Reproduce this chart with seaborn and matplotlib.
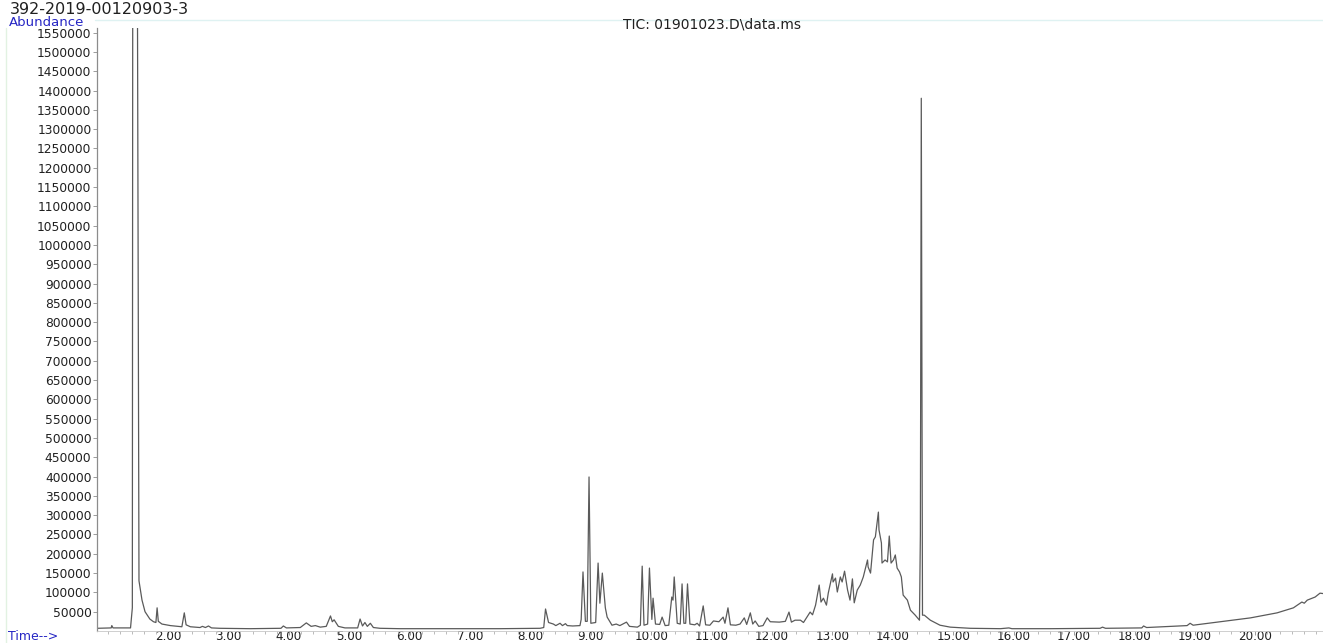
import matplotlib
matplotlib.use("Agg")
import matplotlib.pyplot as plt
import seaborn as sns
import numpy as np
from matplotlib.lines import Line2D
from matplotlib.ticker import FixedLocator

# ---- data (time in min, abundance) ----
time_min = [
    0.83, 1.06, 1.07, 1.09, 1.38, 1.41, 1.42, 1.48, 1.52, 1.57, 1.62, 1.70, 1.76, 1.80,
    1.82, 1.84, 1.90, 2.04, 2.23, 2.27, 2.30, 2.37, 2.53, 2.57, 2.62, 2.67, 2.72, 2.86,
    3.36, 3.87, 3.91, 3.96, 4.19, 4.29, 4.37, 4.44, 4.52, 4.62, 4.69, 4.72, 4.75, 4.82,
    4.93, 5.14, 5.18, 5.22, 5.26, 5.30, 5.35, 5.40, 5.51, 5.84, 6.67, 7.50, 8.16, 8.22,
    8.25, 8.30, 8.38, 8.42, 8.49, 8.53, 8.58, 8.61, 8.70, 8.82, 8.84, 8.87, 8.91, 8.94,
    8.97, 9.00, 9.08, 9.12, 9.15, 9.19, 9.24, 9.27, 9.35, 9.42, 9.48, 9.59, 9.64, 9.77,
    9.82, 9.85, 9.88, 9.94, 9.97, 10.01, 10.03, 10.07, 10.14, 10.18, 10.23, 10.29,
    10.34, 10.36, 10.38, 10.43, 10.48, 10.51, 10.54, 10.57, 10.60, 10.64, 10.72, 10.76,
    10.80, 10.86, 10.90, 10.97, 11.03, 11.12, 11.19, 11.22, 11.27, 11.31, 11.40, 11.47,
    11.54, 11.58, 11.64, 11.68, 11.72, 11.78, 11.85, 11.92, 11.97, 12.12, 12.22, 12.28,
    12.32, 12.38, 12.47, 12.52, 12.63, 12.67, 12.72, 12.78, 12.81, 12.85, 12.90, 12.93,
    13.00, 13.01, 13.05, 13.08, 13.13, 13.16, 13.20, 13.25, 13.29, 13.33, 13.36, 13.41,
    13.46, 13.51, 13.58, 13.59, 13.63, 13.68, 13.71, 13.76, 13.77, 13.81, 13.82, 13.87,
    13.91, 13.94, 13.97, 14.01, 14.04, 14.07, 14.11, 14.14, 14.17, 14.24, 14.29, 14.37,
    14.44, 14.455, 14.47, 14.49, 14.52, 14.62, 14.78, 14.95, 15.28, 15.78, 15.92, 15.97,
    16.61, 17.43, 17.47, 17.52, 18.12, 18.15, 18.20, 18.87, 18.92, 18.97, 19.37, 19.92,
    20.36, 20.63, 20.77, 20.81, 20.86, 20.99, 21.07, 21.12,
]
abundance = [
    7000, 8000, 14000, 8000, 8000, 60000, 2500000, 2500000, 130000, 80000, 50000, 31000, 24000, 22000,
    60000, 25000, 18000, 14000, 11000, 47000, 16000, 11000, 9000, 12000, 9000, 13000, 8000, 7000,
    6000, 7000, 13000, 8000, 9000, 21000, 12000, 14000, 10000, 12000, 39000, 24000, 29000, 12000,
    8000, 8000, 31000, 13000, 22000, 12000, 20000, 9000, 7000, 6000, 6000, 6000, 7000, 9000,
    57000, 22000, 18000, 14000, 20000, 14000, 19000, 14000, 13000, 14000, 30000, 153000, 25000, 25000,
    399000, 20000, 22000, 176000, 72000, 150000, 60000, 36000, 15000, 18000, 14000, 23000, 12000, 10000,
    15000, 168000, 15000, 18000, 163000, 30000, 85000, 18000, 17000, 36000, 14000, 15000,
    88000, 80000, 140000, 20000, 18000, 122000, 20000, 20000, 122000, 18000, 16000, 20000,
    13000, 65000, 16000, 15000, 26000, 24000, 36000, 20000, 60000, 16000, 15000, 18000,
    34000, 17000, 47000, 18000, 26000, 12000, 14000, 34000, 24000, 23000, 25000, 49000,
    23000, 28000, 28000, 22000, 49000, 42000, 67000, 119000, 75000, 85000, 67000, 98000,
    148000, 127000, 137000, 101000, 140000, 127000, 155000, 106000, 80000, 135000, 73000, 106000,
    119000, 140000, 184000, 166000, 150000, 236000, 244000, 308000, 262000, 228000, 176000, 184000,
    179000, 246000, 176000, 184000, 197000, 163000, 153000, 140000, 93000, 80000, 54000, 41000,
    28000, 250000, 1380000, 41000, 41000, 28000, 15000, 10000, 7000, 6000, 8000, 6000,
    6000, 7000, 10000, 7000, 8000, 13000, 9000, 14000, 20000, 15000, 23000, 34000,
    47000, 60000, 75000, 72000, 80000, 88000, 98000, 97000,
]

y_ticks = list(range(50000, 1550001, 50000))
y_tick_labels = [str(v) for v in y_ticks]
x_ticks = [2, 3, 4, 5, 6, 7, 8, 9, 10, 11, 12, 13, 14, 15, 16, 17, 18, 19, 20]
x_tick_labels = ["%.2f" % v for v in x_ticks]

title_text = "392-2019-00120903-3"
tic_text = "TIC: 01901023.D\\data.ms"

# ---- figure ----
sns.set_style("white")
plt.rcParams["font.family"] = ["DejaVu Sans"]

W, H = 1323, 643
fig = plt.figure(figsize=(W / 100, H / 100), dpi=100)
ax_l, ax_r, ax_t, ax_b = 97, 1323, 28, 631
ax = fig.add_axes([ax_l / W, 1 - ax_b / H, (ax_r - ax_l) / W, (ax_b - ax_t) / H])

sns.lineplot(x=time_min, y=abundance, ax=ax, color="#5a5a5a", linewidth=0.9,
             estimator=None, sort=False)

ax.set_xlim(0.825, 21.12)
ax.set_ylim(0, 1562000)
ax.set_xlabel("")
ax.set_ylabel("")

for s in ["top", "right"]:
    ax.spines[s].set_visible(False)
ax.spines["left"].set_color("#8c8c8c")
ax.spines["left"].set_linewidth(0.9)
ax.spines["bottom"].set_color("#c8c8c8")
ax.spines["bottom"].set_linewidth(0.6)

ax.yaxis.set_major_locator(FixedLocator(y_ticks))
ax.set_yticklabels(y_tick_labels)
ax.xaxis.set_major_locator(FixedLocator(x_ticks))
ax.set_xticklabels(x_tick_labels)
ax.xaxis.set_minor_locator(FixedLocator(np.arange(1.0, 21.2, 0.2)))

ax.tick_params(axis="y", which="major", direction="out", length=3, width=0.6,
               color="#8c8c8c", pad=1, labelsize=8.8, labelcolor="#202020", left=True)
ax.tick_params(axis="x", which="major", direction="out", length=3, width=0.6,
               color="#8c8c8c", pad=-3.5, labelsize=8.6, labelcolor="#202020", bottom=True)
ax.tick_params(axis="x", which="minor", direction="out", length=2.5, width=0.5,
               color="#a0a0a0", bottom=True)

blue = "#2626c4"
fig.text(10 / W, 1 - 9.5 / H, title_text, ha="left", va="center", fontsize=11.5, color="#202020")
fig.text(9 / W, 1 - 23 / H, "Abundance", ha="left", va="center", fontsize=9.5, color=blue)
fig.text(712 / W, 1 - 24 / H, tic_text, ha="center", va="center", fontsize=10, color="#202020")
fig.text(8 / W, 1 - 636 / H, "Time-->", ha="left", va="center", fontsize=9, color=blue)

fig.add_artist(Line2D([95 / W, 1], [1 - 19.5 / H, 1 - 19.5 / H], transform=fig.transFigure,
                      color="#dff2f2", linewidth=1))
fig.add_artist(Line2D([6 / W, 6 / W], [0, 1 - 28 / H], transform=fig.transFigure,
                      color="#e2f2e2", linewidth=1))

fig.savefig("out.png", dpi=100)
